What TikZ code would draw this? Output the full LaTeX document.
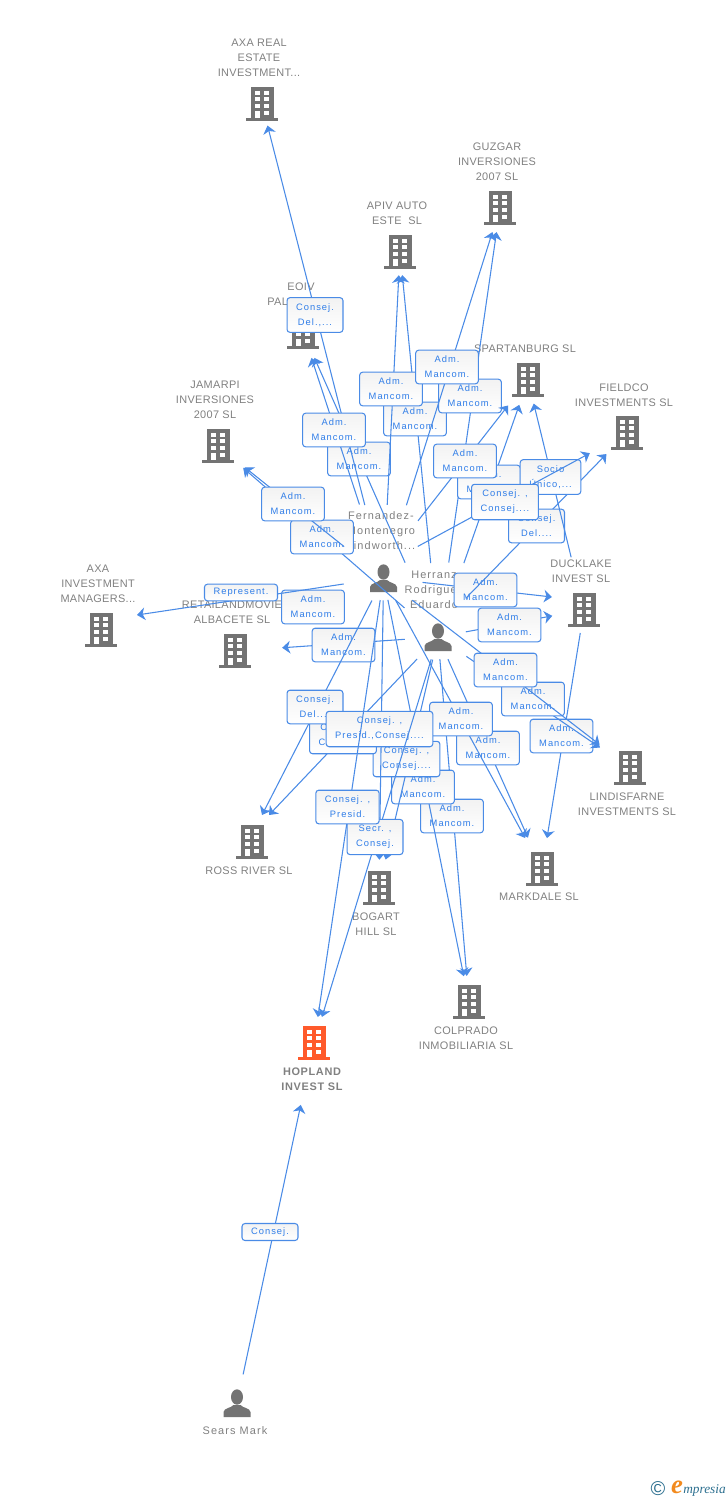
\documentclass[tikz,border=0pt]{standalone}
\usepackage{fontspec}
\usepackage{tikz}
\usetikzlibrary{arrows.meta}
\setmainfont{Liberation Sans}
\newfontfamily\namefont[LetterSpace=3]{Liberation Sans}
\newfontfamily\peoplefont[LetterSpace=10]{Liberation Sans}
\newfontfamily\boldnamefont[LetterSpace=6]{Liberation Sans}
\newfontfamily\tagfont[LetterSpace=11]{Liberation Sans}
\newfontfamily\logofont{Liberation Serif}
\definecolor{bldgray}{HTML}{737373}
\definecolor{hoporange}{HTML}{FF5A2B}
\definecolor{linkblue}{HTML}{4A8BE6}
\definecolor{tagtext}{HTML}{2F7DE8}
\definecolor{nametext}{HTML}{808080}
\definecolor{logoteal}{HTML}{2C6F8F}
\definecolor{logoorange}{HTML}{F28A1E}
\tikzset{
	company/.style={inner sep=0pt, minimum size=0pt},
	person/.style={inner sep=0pt, minimum size=0pt},
	namelabel/.style={text=nametext, align=center, inner sep=0pt, font=\namefont\fontsize{8.2}{11.25}\selectfont},
	peoplelabel/.style={namelabel, font=\peoplefont\fontsize{8.2}{11.25}\selectfont},
	link/.style={draw=linkblue, line width=0.8pt, -{Stealth[length=6pt, width=9.5pt, inset=1.8pt]}},
	ends/.style 2 args={shorten <=#1*0.75pt, shorten >=#2*0.75pt},
	tag/.style={draw=linkblue, line width=0.8pt, rounded corners=2.2pt, top color=black!5, bottom color=white, text=tagtext, align=center, inner xsep=6.8pt, inner ysep=4.4pt, font=\tagfont\fontsize{7}{11.25}\selectfont},
	onelinetag/.style={tag, inner ysep=3.1pt},
	pics/building/.style={code={
		\fill[#1] (-11.5,-17) rectangle (11.5,14);
		\fill[#1] (-16,14) rectangle (16,17);
		\foreach \wx in {-7.5,2} \foreach \wy in {-13.5,-6.8,0}
			\fill[white] (\wx,\wy) rectangle +(5,4);
		\fill[white] (-7.5,6.7) rectangle (-2.5,14);
		\fill[white] (2,6.7) rectangle (7,10.7);
	}},
	pics/personicon/.style={code={
		\fill[bldgray] (0,-6) ellipse [x radius=6, y radius=7.7];
		\fill[bldgray] (-13.5,14) -- (-13.5,9) .. controls (-13,5) and (-6,5) .. (-3.5,2) -- (3.5,2) .. controls (6,5) and (13,5) .. (13.5,9) -- (13.5,14) -- cycle;
	}}
}
\begin{document}
\begin{tikzpicture}[x=0.75pt, y=-0.75pt]
\useasboundingbox (0,0) rectangle (728,1500);

\node[company] (axareal) at (262,104) {};
\node[company] (guzgar) at (500,208) {};
\node[company] (apiv) at (400,252) {};
\node[company] (eoiv) at (303,332) {};
\node[company] (spartan) at (528,380) {};
\node[company] (fieldco) at (627,433) {};
\node[company] (jamarpi) at (218,446) {};
\node[company] (axainv) at (101,630) {};
\node[company] (retail) at (235,651) {};
\node[company] (duck) at (584,610) {};
\node[company] (lind) at (630,768) {};
\node[company] (ross) at (252,842) {};
\node[company] (markdale) at (542,869) {};
\node[company] (bogart) at (379,888) {};
\node[company] (colprado) at (469,1002) {};
\node[company] (hopland) at (314,1043) {};
\node[person] (fern) at (383.5,578) {};
\node[person] (herr) at (438,637) {};
\node[person] (sears) at (237,1403) {};
\coordinate (fernup) at (383.5,565);
\coordinate (herrside) at (428,637);
\coordinate (axainvtip) at (137,615);
\coordinate (duckentry) at (552,597);
\coordinate (rossleft) at (262,815);
\coordinate (rossright) at (269,815);

\foreach \n in {axareal,guzgar,apiv,eoiv,spartan,fieldco,jamarpi,axainv,retail,duck,lind,ross,markdale,bogart,colprado}
	\pic at (\n) {building=bldgray};
\pic at (hopland) {building=hoporange};
\foreach \n in {fern,herr,sears}
	\pic at (\n) {personicon};

\node[namelabel] (axarealname) at (259,58) {AXA REAL\\ESTATE\\INVESTMENT...};
\node[namelabel] (guzgarname) at (497,162) {GUZGAR\\INVERSIONES\\2007 SL};
\node[namelabel] (apivname) at (397,213.5) {APIV AUTO\\ESTE~~SL};
\node[namelabel] (eoivname) at (301,294.5) {EOIV\\PAL\rule{35pt}{0pt}};
\node[namelabel] (spartanname) at (525,349) {SPARTANBURG SL};
\node[namelabel] (fieldconame) at (624,395.5) {FIELDCO\\INVESTMENTS SL};
\node[namelabel] (jamarpiname) at (215,400) {JAMARPI\\INVERSIONES\\2007 SL};
\node[namelabel] (axainvname) at (98,584) {AXA\\INVESTMENT\\MANAGERS...};
\node[namelabel] (retailname) at (232,612.5) {RETAILANDMOVIE\\ALBACETE SL};
\node[namelabel] (duckname) at (581,571.5) {DUCKLAKE\\INVEST SL};
\node[namelabel] (lindname) at (627,804.5) {LINDISFARNE\\INVESTMENTS SL};
\node[namelabel] (rossname) at (249,871) {ROSS RIVER SL};
\node[namelabel] (markdalename) at (539,897) {MARKDALE SL};
\node[namelabel] (bogartname) at (376,924.5) {BOGART\\HILL SL};
\node[namelabel] (colpradoname) at (466,1038.5) {COLPRADO\\INMOBILIARIA SL};
\node[namelabel, font=\boldnamefont\bfseries\fontsize{8.2}{11.25}\selectfont] (hoplandname) at (312,1079.5) {HOPLAND\\INVEST SL};
\node[peoplelabel] (fernname) at (381,531) {Fernandez-\\Montenegro\\Lindworth...};
\node[peoplelabel] (herrname) at (434,590) {Herranz\\Rodriguez\\Eduardo};
\node[peoplelabel] (searsname) at (235,1431) {Sears Mark};

\draw[link,ends={81}{28}] (herr) -- (eoiv) node[tag,at={(359,459)}] {Adm.\\Mancom.};
\draw[link,ends={75}{22}] (fern) -- (axareal) node[tag,at={(315,315)}] {Consej.\\Del.,...};
\draw[link,ends={77}{27}] (fern) -- (eoiv) node[tag,at={(334,430)}] {Adm.\\Mancom.};
\draw[link,ends={44}{33}] (herr) -- (jamarpi) node[tag,at={(322,537)}] {Adm.\\Mancom.};
\draw[link,ends={50}{34}] (fern) -- (jamarpi) node[tag,at={(293,504)}] {Adm.\\Mancom.};
\node[tag] (retailtag) at (313,607) {Adm.\\Mancom.};
\draw[link,ends={40}{0}] (fern) -- (axainvtip) node[onelinetag,at={(241,592.5)}] {Represent.};

\draw[link,ends={74}{23}] (herr) -- (apiv) node[tag,at={(415,419)}] {Adm.\\Mancom.};
\draw[link,ends={73}{23}] (fern) -- (apiv) node[tag,at={(391,389)}] {Adm.\\Mancom.};
\draw[link,ends={75}{24}] (herr) -- (guzgar) node[tag,at={(470,396)}] {Adm.\\Mancom.};
\draw[link,ends={76}{25}] (fern) -- (guzgar) node[tag,at={(447,367)}] {Adm.\\Mancom.};

\draw[link,ends={78}{26}] (herr) -- (spartan) node[tag,at={(489,482)}] {Adm.\\Mancom.};
\draw[link,ends={56}{32}] (fernup) -- (spartan) node[tag,at={(465,461)}] {Adm.\\Mancom.};
\draw[link,ends={39}{0}] (fern) -- (duckentry) node[tag,at={(485.5,590)}] {Adm.\\Mancom.};
\draw[link,ends={54}{29}] (herrside) -- (fieldco) node[tag,at={(536.5,526)}] {Consej.\\Del....};
\draw[link,ends={54}{24}] (duck) -- (spartan) node[tag,at={(550.5,477)}] {Socio\\Único,...};
\draw[link,ends={39}{42}] (fernup) -- (fieldco) node[tag,at={(505,502)}] {Consej. ,\\Consej....};
\draw[link,ends={28}{32}] (herr) -- (duck) node[tag,at={(509.5,625)}] {Adm.\\Mancom.};

\draw[link,ends={23}{31}] (duck) -- (markdale) node[tag,at={(561.5,736)}] {Adm.\\Mancom.};
\draw[link,ends={34}{36}] (herr) -- (lind) node[tag,at={(533,699)}] {Adm.\\Mancom.};
\draw[link,ends={36}{38}] (fern) -- (lind) node[tag,at={(505.5,670)}] {Adm.\\Mancom.};
\draw[link,ends={33}{47}] (herr) -- (retail) node[tag,at={(343.5,645)}] {Adm.\\Mancom.};

\draw[link,ends={22}{26}] (herr) -- (colprado) node[tag,at={(452,816)}] {Adm.\\Mancom.};
\draw[link,ends={22}{26}] (fern) -- (colprado) node[tag,at={(423,787)}] {Adm.\\Mancom.};
\draw[link,ends={24}{34}] (herr) -- (markdale) node[tag,at={(488,748)}] {Adm.\\Mancom.};
\draw[link,ends={25}{35}] (fern) -- (markdale) node[tag,at={(461,719)}] {Adm.\\Mancom.};
\draw[link,ends={23}{29}] (herr) -- (bogart) node[tag,at={(406.5,759)}] {Consej. ,\\Consej....};
\draw[link,ends={30}{0}] (herr) -- (rossright) node[tag,at={(343,736)}] {Consej. ,\\Consej....};
\draw[link,ends={25}{0}] (fern) -- (rossleft) node[tag,at={(315,707)}] {Consej.\\Del....};
\draw[link,ends={22}{28}] (fern) -- (bogart) node[tag,at={(379.5,729)}] {Consej. ,\\Presid.,Consej....};
\draw[link,ends={23}{27}] (herr) -- (hopland) node[tag,at={(375,837)}] {Secr. ,\\Consej.};
\draw[link,ends={22}{26}] (fern) -- (hopland) node[tag,at={(347.5,807)}] {Consej. ,\\Presid.};
\draw[link,ends={29}{63}] (sears) -- (hopland) node[onelinetag,at={(270,1232)}] {Consej.};

\node[text=logoteal, inner sep=0pt, font=\fontsize{15}{15}\selectfont] (logomark) at (658,1489) {©};
\node[text=logoorange, inner sep=0pt, font=\logofont\itshape\bfseries\fontsize{20}{20}\selectfont] (logoe) at (677,1487) {e};
\node[text=logoteal, inner sep=0pt, anchor=west, font=\logofont\itshape\fontsize{10}{10}\selectfont] (logoword) at (683,1490) {mpresia};
\end{tikzpicture}
\end{document}
